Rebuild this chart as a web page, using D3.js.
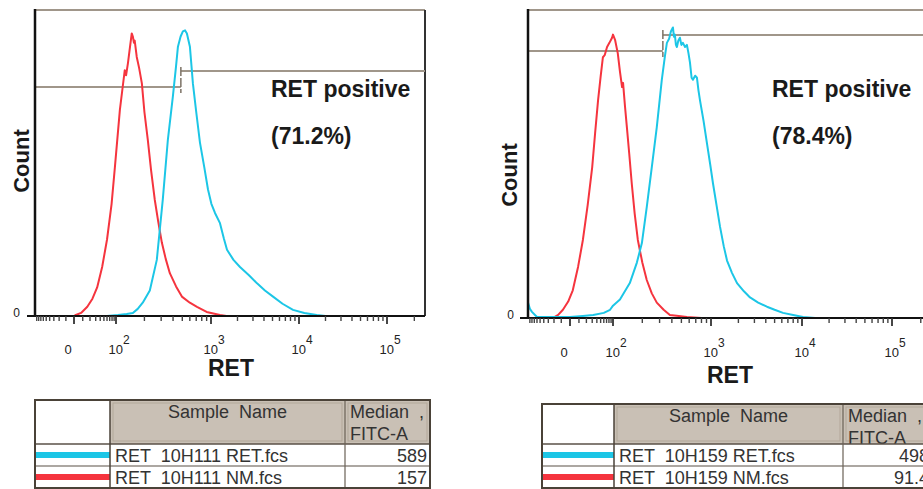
<!DOCTYPE html>
<html>
<head>
<meta charset="utf-8">
<script src="https://cdn.jsdelivr.net/npm/d3@7"></script>
<style>
  body { margin: 0; background: #fff; }
  svg { display: block; font-family: "Liberation Sans", Arial, sans-serif; }
  .pre { white-space: pre; }
</style>
</head>
<body>
<div id="chart"></div>
<script>
// ---- data ------------------------------------------------------------
// x = FITC-A intensity, y = event count
const retA = [[-100,0],[60,0],[105,1],[130,2],[151,3],[170,7],[192,13],[228,25],[270,55],[312,114],
  [353,173],[398,215],[430,245],[450,264],[480,274],[507,279],[535,280],[559,277],[601,264],[646,228],
  [700,200],[766,170],[850,146],[930,124],[1010,110],[1110,101],[1265,91],[1400,76],[1520,65],[1800,55],
  [2135,48],[2700,40],[3335,32],[4100,25],[5070,19],[6500,12],[8550,6],[11500,3],[15900,1],[20000,0],[262143,0]];
const nmA = [[-100,0],[0,0],[2,1],[8,3],[16,9],[24,17],[33,28],[45,48],[60,75],[78,110],[94,146],[110,202],
  [118,225],[124,241],[128,236],[134,248],[140,262],[147,277],[151,274],[155,268],[158,270],[166,254],
  [176,243],[188,228],[200,200],[217,173],[235,143],[257,114],[280,92],[305,72],[335,56],[370,42],
  [430,29],[495,19],[600,13],[713,9],[900,4],[1266,1],[1500,0],[262143,0]];
const retB = [[-100,15],[-90,9],[-80,6],[-60,1],[-12,1],[0,1],[15,2],[32,3],[60,5],[85,8],[100,12],[118,18],
  [149,34],[176,54],[198,73],[222,108],[250,147],[281,186],[316,232],[340,255],[356,268],[375,272],[391,279],
  [410,283],[420,274],[429,276],[440,266],[450,264],[465,270],[483,273],[500,266],[518,268],[545,264],
  [569,266],[590,258],[611,249],[635,234],[655,232],[690,236],[720,234],[745,222],[773,212],[840,192],
  [910,170],[980,150],[1052,131],[1150,110],[1256,89],[1380,70],[1500,56],[1700,44],[1932,34],[2300,26],
  [2685,20],[3300,15],[4120,11],[5000,8],[6180,5],[8000,3],[10260,1],[14000,0],[262143,0]];
const nmB = [[-100,0],[-22,0],[-14,3],[-8,8],[-2,16],[3,27],[9,50],[15,76],[22,110],[30,147],[36,180],[43,212],
  [50,235],[57,254],[63,256],[72,264],[82,268],[95,273],[100,276],[105,271],[112,258],[118,240],[124,225],
  [127,229],[133,206],[139,186],[147,160],[156,131],[167,102],[180,76],[200,54],[222,37],[250,24],
  [281,15],[330,8],[382,3],[470,2],[569,1],[800,0],[262143,0]];

const xBreaks = [-100, 0, 100, 1000, 10000, 100000, 262143];
const majorTicks = [0, 100, 1000, 10000, 100000];
const tickBase = ["0", "10", "10", "10", "10"];
const tickExp = ["", "2", "3", "4", "5"];
const minorTicks = [-90,-80,-70,-60,-50,-40,-30,-20,-10,10,20,30,40,50,60,70,80,90,
  200,300,400,500,600,700,800,900,2000,3000,4000,5000,6000,7000,8000,9000,
  20000,30000,40000,50000,60000,70000,80000,90000,200000];

const gateA = 483, gateB = 324;       // gate start (FITC-A)
const percentA = "(71.2%)", percentB = "(78.4%)";
const namesA = ["RET  10H111 RET.fcs", "RET  10H111 NM.fcs"];
const mediansA = ["589", "157"];
const namesB = ["RET  10H159 RET.fcs", "RET  10H159 NM.fcs"];
const mediansB = ["498", "91.4"];

const CYAN = "#1cc6e6", RED = "#f5343e", GATE = "#a0968a";

// ---- layout ----------------------------------------------------------
const svg = d3.select("#chart").append("svg")
  .attr("width", 923).attr("height", 489);

const tf = v => Math.asinh(v / 20);

const panels = [
  {ret: retA, nm: nmA, gate: gateA, pct: percentA, names: namesA, medians: mediansA,
   stops: [35, 74, 116, 211, 299, 387, 425], top: 10, base: 316,
   gateLo: 87, gateHi: 71, gateTop: 67, gateBot: 93,
   textX: 271, countX: 29, countY: 161, zeroX: 20, labelY: 354, titleX: 231, titleY: 376,
   table: {x0: 35, x1: 110, x2: 345, x3: 430, y0: 400, y1: 444, y2: 466, y3: 488}},
  {ret: retB, nm: nmB, gate: gateB, pct: percentB, names: namesB, medians: mediansB,
   stops: [528, 570, 613, 711, 802, 892, 932], top: 10, base: 318,
   gateLo: 51, gateHi: 35, gateTop: 30, gateBot: 57,
   textX: 772, countX: 517, countY: 175, zeroX: 514, labelY: 357, titleX: 730, titleY: 383,
   table: {x0: 542, x1: 614, x2: 843, x3: 932, y0: 404, y1: 444, y2: 466, y3: 488}}
];

panels.forEach(p => {
  const g = svg.append("g");
  const lin = d3.scaleLinear().domain(xBreaks.map(tf)).range(p.stops);
  const x = v => lin(tf(v));
  const y = d3.scaleLinear().domain([0, 300]).range([p.base, p.top]);
  const x0 = p.stops[0], x1 = p.stops[p.stops.length - 1];

  // frame
  g.append("line").attr("x1", x0).attr("x2", x1).attr("y1", p.top).attr("y2", p.top)
    .attr("stroke", GATE).attr("stroke-width", 2);
  g.append("line").attr("x1", x1).attr("x2", x1).attr("y1", p.top).attr("y2", p.base)
    .attr("stroke", "#333").attr("stroke-width", 2);

  // gate
  const gx = x(p.gate);
  g.append("line").attr("x1", x0).attr("x2", gx).attr("y1", p.gateLo).attr("y2", p.gateLo)
    .attr("stroke", GATE).attr("stroke-width", 2);
  g.append("line").attr("x1", gx).attr("x2", x1).attr("y1", p.gateHi).attr("y2", p.gateHi)
    .attr("stroke", GATE).attr("stroke-width", 2);
  g.append("line").attr("x1", gx).attr("x2", gx).attr("y1", p.gateTop).attr("y2", p.gateBot)
    .attr("stroke", "#7d7366").attr("stroke-width", 1.5).attr("stroke-dasharray", "9,2");

  // curves
  const line = d3.line().x(d => x(d[0])).y(d => y(d[1]));
  [[p.nm, RED], [p.ret, CYAN]].forEach(([data, c]) => {
    g.append("path").attr("d", line(data)).attr("fill", "none")
      .attr("stroke", c).attr("stroke-width", 2).attr("stroke-linejoin", "round");
  });

  // axes
  g.append("line").attr("x1", x0).attr("x2", x0).attr("y1", p.top - 1).attr("y2", p.base)
    .attr("stroke", "#111").attr("stroke-width", 2.5);
  g.append("line").attr("x1", x0 - 8).attr("x2", x1).attr("y1", p.base).attr("y2", p.base)
    .attr("stroke", "#111").attr("stroke-width", 2);
  g.selectAll(".minor").data(minorTicks).enter().append("line")
    .attr("x1", d => x(d)).attr("x2", d => x(d)).attr("y1", p.base).attr("y2", p.base + 5)
    .attr("stroke", "#444").attr("stroke-width", 1.4);
  g.selectAll(".major").data(majorTicks).enter().append("line")
    .attr("x1", d => x(d)).attr("x2", d => x(d)).attr("y1", p.base).attr("y2", p.base + 8)
    .attr("stroke", "#333").attr("stroke-width", 1.8);

  const lab = g.selectAll(".tl").data(majorTicks).enter().append("text")
    .attr("x", (d, i) => i === 0 ? x(d) - 6 : x(d) + 3)
    .attr("y", p.labelY).attr("text-anchor", "middle")
    .attr("font-size", 13).attr("fill", "#222");
  lab.append("tspan").text((d, i) => tickBase[i]);
  lab.append("tspan").attr("dy", -10).attr("font-size", 12).text((d, i) => tickExp[i]);

  g.append("text").attr("x", p.zeroX).attr("y", p.base + 1).attr("text-anchor", "end")
    .attr("font-size", 12).attr("fill", "#222").text("0");

  g.append("text").attr("transform", `translate(${p.countX},${p.countY}) rotate(-90)`)
    .attr("text-anchor", "middle").attr("font-size", 22).attr("font-weight", "bold")
    .attr("fill", "#1a1a1a").text("Count");
  g.append("text").attr("x", p.titleX).attr("y", p.titleY).attr("text-anchor", "middle")
    .attr("font-size", 23).attr("font-weight", "bold").attr("fill", "#1a1a1a").text("RET");

  g.append("text").attr("x", p.textX).attr("y", 97).attr("font-size", 23)
    .attr("font-weight", "bold").attr("fill", "#1a1a1a").text("RET positive");
  g.append("text").attr("x", p.textX).attr("y", 144).attr("font-size", 23)
    .attr("font-weight", "bold").attr("fill", "#1a1a1a").text(p.pct);

  // table
  const t = p.table;
  const tg = g.append("g");
  const clipId = "clip" + t.x0;
  tg.append("clipPath").attr("id", clipId).append("rect")
    .attr("x", t.x1).attr("y", t.y0).attr("width", t.x3 - t.x1).attr("height", t.y1 - t.y0);
  tg.append("rect").attr("x", t.x1).attr("y", t.y0).attr("width", t.x3 - t.x1).attr("height", t.y1 - t.y0)
    .attr("fill", "#c9c0b5");
  [[t.x1, t.x2], [t.x2, t.x3]].forEach(([a, b]) => {
    tg.append("rect").attr("x", a + 3).attr("y", t.y0 + 3).attr("width", b - a - 6).attr("height", t.y1 - t.y0 - 6)
      .attr("fill", "none").attr("stroke", "#b2a799").attr("stroke-width", 1);
  });
  tg.append("text").attr("x", (t.x1 + t.x2) / 2).attr("y", t.y0 + 18).attr("text-anchor", "middle")
    .attr("class", "pre").attr("font-size", 18).attr("fill", "#333").text("Sample  Name");
  const hdr = tg.append("g").attr("clip-path", `url(#${clipId})`);
  hdr.append("text").attr("x", t.x2 + 5).attr("y", t.y0 + 18).attr("class", "pre")
    .attr("font-size", 18).attr("fill", "#333").text("Median  ,");
  hdr.append("text").attr("x", t.x2 + 5).attr("y", t.y0 + 40)
    .attr("font-size", 18).attr("fill", "#333").text("FITC-A");

  const rowY = [t.y1, t.y2];
  const rowH = t.y2 - t.y1;
  [CYAN, RED].forEach((c, i) => {
    tg.append("line").attr("x1", t.x0).attr("x2", t.x1)
      .attr("y1", rowY[i] + rowH / 2).attr("y2", rowY[i] + rowH / 2)
      .attr("stroke", c).attr("stroke-width", 6);
  });
  tg.selectAll(".nm").data(p.names).enter().append("text")
    .attr("x", t.x1 + 5).attr("y", (d, i) => rowY[i] + 18).attr("class", "pre")
    .attr("font-size", 18).attr("fill", "#333").text(d => d);
  tg.selectAll(".md").data(p.medians).enter().append("text")
    .attr("x", t.x3 - 3).attr("y", (d, i) => rowY[i] + 18).attr("text-anchor", "end")
    .attr("font-size", 18).attr("fill", "#333").text(d => d);

  // grid lines
  const ln = (a, b, c, d, w, col) => tg.append("line").attr("x1", a).attr("y1", b).attr("x2", c).attr("y2", d)
    .attr("stroke", col).attr("stroke-width", w);
  ln(t.x0, t.y1, t.x3, t.y1, 1.5, "#5a5147");
  ln(t.x0, t.y2, t.x3, t.y2, 1.2, "#5a5147");
  ln(t.x1, t.y0, t.x1, t.y3, 1.5, "#4a4238");
  ln(t.x2, t.y0, t.x2, t.y3, 1.2, "#6a6156");
  tg.append("rect").attr("x", t.x0).attr("y", t.y0).attr("width", t.x3 - t.x0).attr("height", t.y3 - t.y0)
    .attr("fill", "none").attr("stroke", "#4a4238").attr("stroke-width", 2);
});
</script>
</body>
</html>
